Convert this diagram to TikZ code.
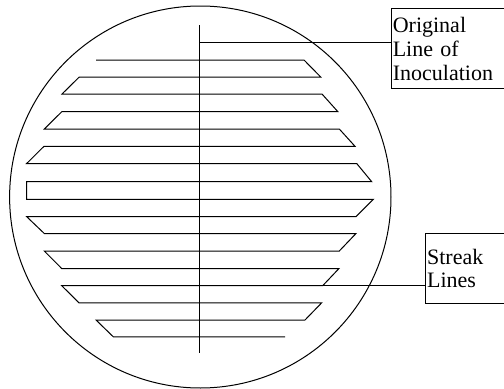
\documentclass[tikz,border=0pt]{standalone}
\usepackage{fontspec}
\setmainfont{Liberation Serif}
\begin{document}
\begin{tikzpicture}[x=0.75pt,y=-0.75pt,
  thinline/.style={line width=0.75pt,black},
  labelbox/.style={draw,line width=0.75pt,anchor=north west,inner xsep=1.2pt,inner ysep=0pt,
     align=left,text width=100pt,font=\fontsize{16.5}{17.8}\selectfont}]
\useasboundingbox (0,0) rectangle (504,389);
\clip (0,0) rectangle (504,389);
% plate
\draw[thinline] (200.3,197) ellipse [x radius=190.7, y radius=191];
% original line of inoculation
\coordinate (vtop) at (199.8,25);
\coordinate (vbot) at (199.8,353.3);
\draw[thinline] (vtop) -- (vbot);
\coordinate (orgpt) at (199.8,42.3);
% streak path
\draw[thinline,line join=miter]
 (96,60) -- (304,60) -- (320.7,77) -- (79.3,77) -- (62,94) -- (322,94)
 -- (337.7,111.5) -- (62,111.5) -- (44.3,129) -- (339.3,129) -- (355,146.3)
 -- (44,146.3) -- (26.7,163.5) -- (356.7,163.5) -- (371.7,181.7) -- (26.7,181.7)
 -- (26.7,199.3) -- (373.3,199.3) -- (356,216.7) -- (26.7,216.7) -- (44.3,233.5)
 -- (356,233.5) -- (339.3,251) -- (44.3,251) -- (61.7,268.5) -- (339,268.5)
 -- (322.7,285.7) coordinate (strpt) -- (61.7,285.7) -- (79,302.8) -- (321.7,302.8)
 -- (305,320) -- (96,320) -- (113.3,336.8) -- (285,336.8);
% labels
\node[labelbox,minimum height=60pt] (orig) at (390.7,8.3)
  {Original\\Line of\\Inoculation};
\node[labelbox,minimum height=52pt] (streak) at (425,233.3)
  {Streak\\Lines};
\draw[thinline] (orgpt) -- (orgpt -| orig.west);
\draw[thinline] (strpt) -- (strpt -| streak.west);
\end{tikzpicture}
\end{document}
